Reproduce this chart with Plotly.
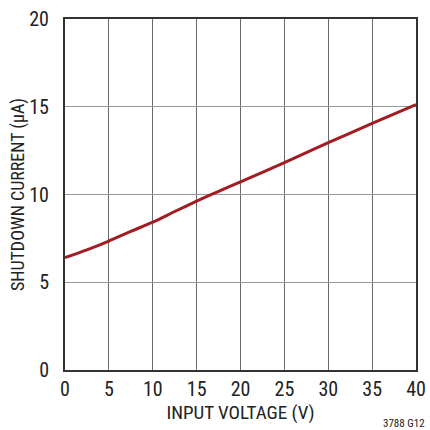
import plotly.graph_objects as go

input_voltage = [0, 2.5, 5, 7.5, 10, 12.5, 15, 17.5, 20, 25, 30, 35, 40]
shutdown_current = [6.4, 6.85, 7.35, 7.9, 8.42, 9.03, 9.62, 10.18, 10.72, 11.82, 12.95, 14.05, 15.12]
x_ticks = [0, 5, 10, 15, 20, 25, 30, 35, 40]
y_ticks = [0, 5, 10, 15, 20]

FONT = "Liberation Sans Narrow, Roboto Condensed, Liberation Sans, Arial"

fig = go.Figure()
fig.add_trace(go.Scatter(x=input_voltage, y=shutdown_current, mode="lines",
                         line=dict(color="#a11d24", width=3, shape="spline", smoothing=0.6),
                         showlegend=False, hoverinfo="skip"))

fig.update_layout(
    width=430, height=430,
    margin=dict(l=65, r=14, t=19, b=60),
    paper_bgcolor="white", plot_bgcolor="white",
    font=dict(family=FONT, color="#222", size=19),
    xaxis=dict(range=[0, 40], tickvals=x_ticks, showgrid=True, gridcolor="#6a6a6a", gridwidth=1.3,
               showline=True, linecolor="#333", linewidth=2, mirror=True, zeroline=False,
               ticks="", tickfont=dict(size=20, family=FONT), automargin=False,
               title=dict(text="INPUT VOLTAGE (V)", font=dict(size=19, family=FONT), standoff=4)),
    yaxis=dict(range=[0, 20], tickvals=y_ticks, showgrid=True, gridcolor="#9a9a9a", gridwidth=1.3,
               showline=True, linecolor="#333", linewidth=2, mirror=True, zeroline=False,
               ticks="", tickfont=dict(size=20, family=FONT), ticklabelstandoff=10, automargin=False,
               title=dict(text="SHUTDOWN CURRENT (µA)", font=dict(size=18, family=FONT), standoff=0)),
    annotations=[dict(text="3788 G12", xref="paper", yref="paper", x=1.031, y=-0.152,
                      xanchor="right", yanchor="middle", showarrow=False,
                      font=dict(size=11, family=FONT, color="#222"))],
)

fig.write_html("out.html", config={"displayModeBar": False},
               post_script="document.body.style.margin='0';document.body.style.overflow='hidden';")
